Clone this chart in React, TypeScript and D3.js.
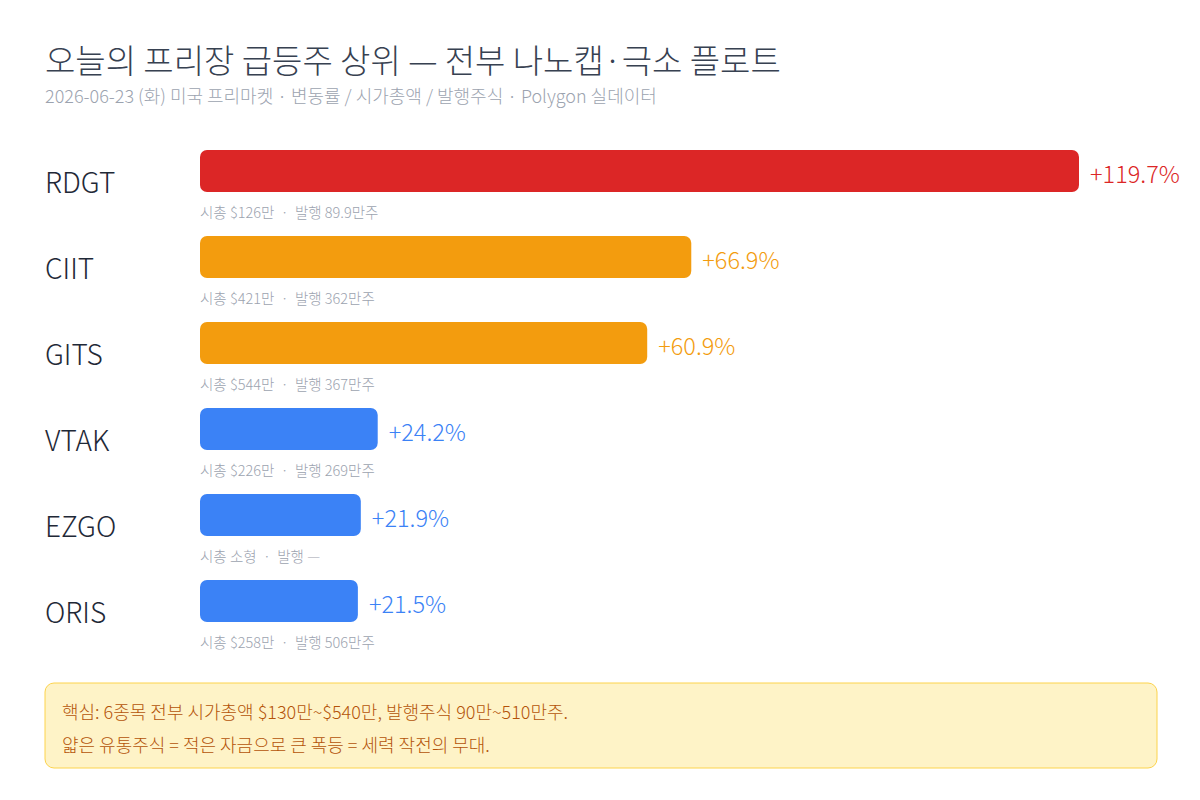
import React from "react";
import * as d3 from "d3";

const tickers = ["RDGT", "CIIT", "GITS", "VTAK", "EZGO", "ORIS"];
const changes = [119.7, 66.9, 60.9, 24.2, 21.9, 21.5];
const subLabels = [
  "시총 $126만  ·  발행 89.9만주",
  "시총 $421만  ·  발행 362만주",
  "시총 $544만  ·  발행 367만주",
  "시총 $226만  ·  발행 269만주",
  "시총 소형  ·  발행 —",
  "시총 $258만  ·  발행 506만주",
];
const title = "오늘의 프리장 급등주 상위 — 전부 나노캡·극소 플로트";
const subtitle = "2026-06-23 (화) 미국 프리마켓 · 변동률 / 시가총액 / 발행주식 · Polygon 실데이터";
const noteLines = [
  "핵심: 6종목 전부 시가총액 $130만~$540만, 발행주식 90만~510만주.",
  "얇은 유통주식 = 적은 자금으로 큰 폭등 = 세력 작전의 무대.",
];

const FONT = "'Noto Sans CJK KR', 'Noto Sans', sans-serif";

function colorFor(v: number) {
  if (v >= 100) return "#dc2626";
  if (v >= 50) return "#f39c0e";
  return "#3b82f6";
}

export default function App() {
  const W = 1200;
  const H = 800;
  const x = d3.scaleLinear().domain([0, d3.max(changes) as number]).range([200, 1079]);
  const y = d3.scaleBand<string>().domain(tickers).range([150, 666]).paddingInner(0);
  const barH = 42;

  return (
    <svg
      width={W}
      height={H}
      style={{ position: "absolute", left: 0, top: 0, background: "#fff" }}
      fontFamily={FONT}
    >
      <rect x={0} y={0} width={W} height={H} fill="#ffffff" />
      <text x={45} y={73} fontSize={33} fontWeight={300} fill="#374151">
        {title}
      </text>
      <text x={45} y={103} fontSize={18} fontWeight={300} fill="#9ca3af">
        {subtitle}
      </text>

      {tickers.map((t, i) => {
        const y0 = y(t) as number;
        const v = changes[i];
        const c = colorFor(v);
        const x1 = x(v);
        return (
          <g key={t}>
            <text x={45} y={y0 + 43} fontSize={28} fontWeight={300} fill="#1f2937">
              {t}
            </text>
            <rect x={x(0)} y={y0} width={x1 - x(0)} height={barH} rx={7} ry={7} fill={c} />
            <text x={x1 + 11} y={y0 + 33} fontSize={23.5} fontWeight={300} fill={c}>
              {`+${v.toFixed(1)}%`}
            </text>
            <text
              x={x(0)}
              y={y0 + 68}
              fontSize={14.5}
              fontWeight={300}
              fill="#9ca3af"
              style={{ whiteSpace: "pre" }}
            >
              {subLabels[i]}
            </text>
          </g>
        );
      })}

      <rect
        x={45}
        y={683}
        width={1112}
        height={85}
        rx={9}
        ry={9}
        fill="#fef3c7"
        stroke="#fcd34d"
        strokeWidth={1}
      />
      {noteLines.map((l, i) => (
        <text key={i} x={62} y={719 + i * 33} fontSize={18} fontWeight={300} fill="#b45309">
          {l}
        </text>
      ))}
    </svg>
  );
}
